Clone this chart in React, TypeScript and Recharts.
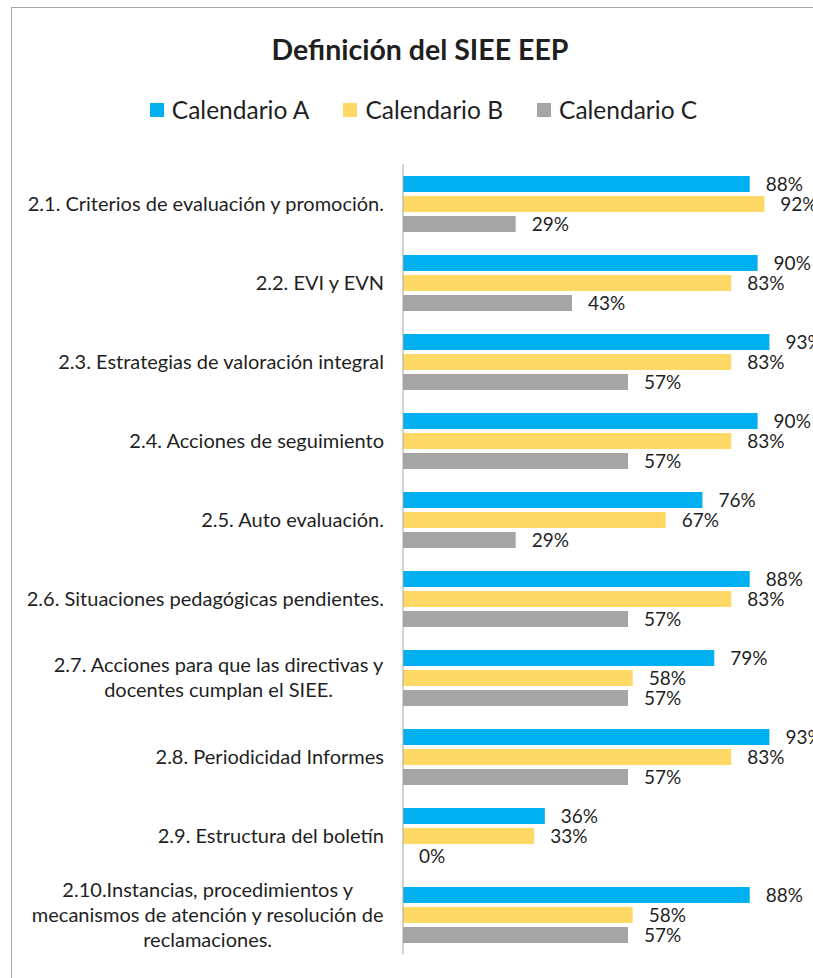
import React from 'react';
import { BarChart, Bar, XAxis, YAxis, Legend, LabelList } from 'recharts';

const title = 'Definición del SIEE EEP';
const categories = [
  '2.1. Criterios de evaluación y promoción.',
  '2.2. EVI y EVN',
  '2.3. Estrategias de valoración integral',
  '2.4. Acciones de seguimiento',
  '2.5. Auto evaluación.',
  '2.6. Situaciones pedagógicas pendientes.',
  '2.7. Acciones para que las directivas y\ndocentes cumplan el SIEE.',
  '2.8. Periodicidad Informes',
  '2.9. Estructura del boletín',
  '2.10.Instancias, procedimientos y\nmecanismos de atención y resolución de\nreclamaciones.',
];
const seriesNames = ['Calendario A', 'Calendario B', 'Calendario C'];
const seriesColors = ['#00B0F0', '#FFD966', '#A5A5A5'];
const calendarioA = [88, 90, 93, 90, 76, 88, 79, 93, 36, 88];
const calendarioB = [91.7, 83.3, 83.3, 83.3, 66.7, 83.3, 58.3, 83.3, 33.3, 58.3];
const calendarioC = [28.6, 42.9, 57.1, 57.1, 28.6, 57.1, 57.1, 57.1, 0, 57.1];

const data = categories.map((name, i) => ({
  name,
  a: calendarioA[i],
  b: calendarioB[i],
  c: calendarioC[i],
}));

const FONT = 'Lato, "Open Sans", sans-serif';
const TEXT = '#1f1f1f';
const CAT_SIZE = 20;
const VALUE_SIZE = 19;

let measureCtx: CanvasRenderingContext2D | null = null;
function measure(text: string, font: string): number {
  if (!measureCtx) measureCtx = document.createElement('canvas').getContext('2d');
  if (!measureCtx) return text.length * 8;
  measureCtx.font = font;
  return measureCtx.measureText(text).width;
}

const CategoryTick = (props: any) => {
  const { x, y, payload } = props;
  const lines = String(payload.value).split('\n');
  const lh = 25;
  if (lines.length === 1) {
    return (
      <text x={x} y={y} dy="0.36em" textAnchor="end" fill={TEXT} fontFamily={FONT} fontSize={CAT_SIZE}>
        {lines[0]}
      </text>
    );
  }
  const maxW = Math.max(...lines.map((l) => measure(l, `${CAT_SIZE}px ${FONT}`)));
  const cx = x - maxW / 2;
  const y0 = y - ((lines.length - 1) * lh) / 2;
  return (
    <text textAnchor="middle" fill={TEXT} fontFamily={FONT} fontSize={CAT_SIZE}>
      {lines.map((l, i) => (
        <tspan key={i} x={cx} y={y0 + i * lh} dy="0.36em">
          {l}
        </tspan>
      ))}
    </text>
  );
};

const LegendContent = (props: any) => {
  const payload = props.payload || [];
  return (
    <div
      style={{
        display: 'flex',
        justifyContent: 'center',
        gap: 34,
        fontFamily: FONT,
        fontSize: 24.5,
        color: TEXT,
      }}
    >
      {payload.map((p: any) => (
        <div key={p.value} style={{ display: 'flex', alignItems: 'center' }}>
          <span style={{ display: 'inline-block', width: 14, height: 14, background: p.color, marginRight: 8 }} />
          <span>{p.value}</span>
        </div>
      ))}
    </div>
  );
};

const fmt = (v: any) => `${Math.round(Number(v))}%`;

export default function App() {
  const keys = ['a', 'b', 'c'];
  return (
    <div style={{ position: 'fixed', left: 0, top: 0, width: 813, height: 978, overflow: 'hidden', background: '#fff' }}>
      <div
        style={{
          position: 'absolute',
          left: 11,
          top: 7,
          width: 830,
          height: 990,
          border: '1px solid #a6a6a6',
          background: '#fff',
        }}
      >
        <div
          style={{
            position: 'absolute',
            left: 0,
            top: 21,
            width: 816,
            textAlign: 'center',
            fontFamily: FONT,
            fontWeight: 700,
            fontSize: 28.5,
            lineHeight: '40px',
            color: TEXT,
          }}
        >
          {title}
        </div>
        <BarChart
          width={830}
          height={990}
          data={data}
          layout="vertical"
          margin={{ top: 156, right: 45, bottom: 44, left: 0 }}
          barSize={16}
          barGap={4}
        >
          <XAxis type="number" domain={[0, 100]} hide />
          <YAxis
            type="category"
            dataKey="name"
            width={391}
            axisLine={{ stroke: '#a6a6a6' }}
            tickLine={false}
            tickSize={0}
            tickMargin={19}
            tick={<CategoryTick />}
            interval={0}
          />
          <Legend
            layout="horizontal"
            verticalAlign="middle"
            align="center"
            content={<LegendContent />}
            wrapperStyle={{ position: 'absolute', top: 87, left: 0, width: 823, margin: 0 }}
          />
          {keys.map((k, i) => (
            <Bar
              key={k}
              dataKey={k}
              name={seriesNames[i]}
              fill={seriesColors[i]}
              minPointSize={0.01}
              isAnimationActive={false}
            >
              <LabelList
                dataKey={k}
                position="right"
                offset={16}
                formatter={fmt}
                fill={TEXT}
                fontFamily={FONT}
                fontSize={VALUE_SIZE}
              />
            </Bar>
          ))}
        </BarChart>
      </div>
    </div>
  );
}
